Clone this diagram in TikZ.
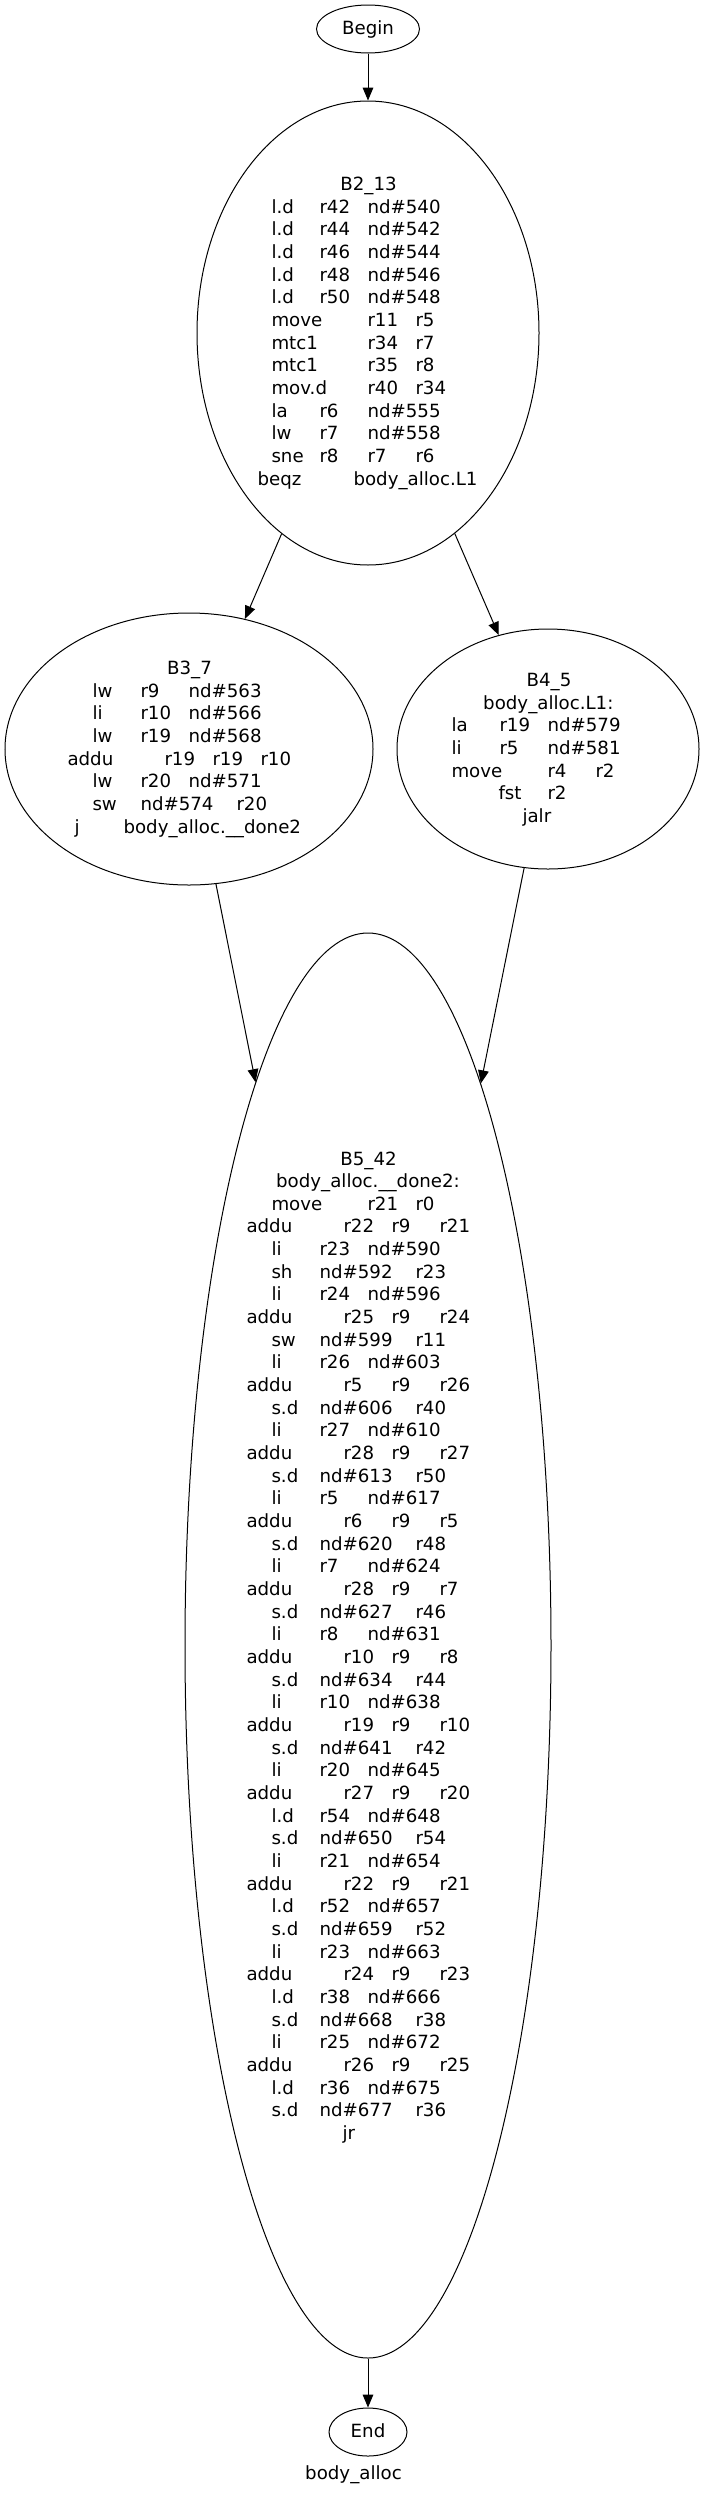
\documentclass[tikz,border=0pt]{standalone}
\usepackage{fontspec}
\setmainfont{DejaVu Sans}
\usetikzlibrary{shapes.geometric,arrows.meta}
\newcounter{tl}
\def\base{0}
\def\dx{0}
\newcommand\tok[3]{\stepcounter{tl}\node[txt,anchor=base west] (t\arabic{tl}) at ({#1+\dx-1.5},{\base+22.66*#2}) {#3};}
\newcommand\ctr[3]{\stepcounter{tl}\node[txt,anchor=base] (t\arabic{tl}) at ({#1},{\base+22.66*#2}) {#3};}
% rows: index, tokens
\newcommand\rowA[4]{\tok{273}{#1}{#2}\tok{321}{#1}{#3}\tok{369}{#1}{#4}}
\newcommand\rowB[4]{\tok{273}{#1}{#2}\tok{369}{#1}{#3}\tok{417}{#1}{#4}}
\newcommand\rowC[4]{\tok{273}{#1}{#2}\tok{321}{#1}{#3}\tok{417}{#1}{#4}}
\newcommand\rowD[4]{\tok{248}{#1}{addu}\tok{345}{#1}{#2}\tok{393}{#1}{#3}\tok{441}{#1}{#4}}
\begin{document}
\begin{tikzpicture}[x=0.75pt,y=-0.75pt,
  txt/.style={inner sep=0pt,outer sep=0pt,font=\fontsize{13.65}{16}\selectfont},
  blk/.style={draw,ellipse,inner sep=0pt,line width=0.75pt},
  arr/.style={-{Triangle[length=9.75pt,width=8pt]},line width=0.75pt}]
\fill[white] (0,0) rectangle (704,2495);
\useasboundingbox (0,0) rectangle (704,2495);
% block shapes
\node[blk,minimum width=77.25pt,minimum height=36pt] (begin) at (368,29) {};
\node[txt,anchor=base] (beginlbl) at (368,34.5) {Begin};
\node[blk,minimum width=256.5pt,minimum height=348pt] (b2) at (368,333) {};
\node[blk,minimum width=276pt,minimum height=204pt] (b3) at (189,749) {};
\node[blk,minimum width=226.5pt,minimum height=180pt] (b4) at (548,749) {};
\node[blk,minimum width=274.5pt,minimum height=1068.75pt] (b5) at (368,1645.5) {};
\node[blk,minimum width=58.5pt,minimum height=36pt] (end) at (368,2432) {};
\node[txt,anchor=base] (endlbl) at (368,2437) {End};
\node[txt,anchor=base] (graphlbl) at (353.5,2479) {body\_alloc};
% edges
\draw[arr] (begin) -- (b2);
\draw[arr] (b2) -- (b3);
\draw[arr] (b2) -- (b4);
\draw[arr] (b3) -- (b5);
\draw[arr] (b4) -- (b5);
\draw[arr] (b5) -- (end);
% B2_13
\def\base{190.5}\def\dx{0}
\ctr{368.5}{0}{B2\_13}
\rowA{1}{l.d}{r42}{nd\#540}
\rowA{2}{l.d}{r44}{nd\#542}
\rowA{3}{l.d}{r46}{nd\#544}
\rowA{4}{l.d}{r48}{nd\#546}
\rowA{5}{l.d}{r50}{nd\#548}
\rowB{6}{move}{r11}{r5}
\rowB{7}{mtc1}{r34}{r7}
\rowB{8}{mtc1}{r35}{r8}
\rowB{9}{mov.d}{r40}{r34}
\rowA{10}{la}{r6}{nd\#555}
\rowA{11}{lw}{r7}{nd\#558}
\rowA{12}{sne}{r8}{r7}\tok{417}{12}{r6}
\tok{259}{13}{beqz}\tok{355}{13}{body\_alloc.L1}
% B3_7
\def\base{674.5}\def\dx{-179}
\ctr{189.5}{0}{B3\_7}
\rowA{1}{lw}{r9}{nd\#563}
\rowA{2}{li}{r10}{nd\#566}
\rowA{3}{lw}{r19}{nd\#568}
\rowD{4}{r19}{r19}{r10}
\rowA{5}{lw}{r20}{nd\#571}
\rowC{6}{sw}{nd\#574}{r20}
\tok{255}{7}{j}\tok{304}{7}{body\_alloc.\_\_done2}
% B4_5
\def\base{686.5}\def\dx{180}
\ctr{549}{0}{B4\_5}
\ctr{548.3}{1}{body\_alloc.L1:}
\rowA{2}{la}{r19}{nd\#579}
\rowA{3}{li}{r5}{nd\#581}
\rowB{4}{move}{r4}{r2}
\tok{320}{5}{fst}\tok{369}{5}{r2}
\tok{344}{6}{jalr}
% B5_42
\def\base{1165}\def\dx{0}
\ctr{368.5}{0}{B5\_42}
\ctr{368}{1}{body\_alloc.\_\_done2:}
\rowB{2}{move}{r21}{r0}
\rowD{3}{r22}{r9}{r21}
\rowA{4}{li}{r23}{nd\#590}
\rowC{5}{sh}{nd\#592}{r23}
\rowA{6}{li}{r24}{nd\#596}
\rowD{7}{r25}{r9}{r24}
\rowC{8}{sw}{nd\#599}{r11}
\rowA{9}{li}{r26}{nd\#603}
\rowD{10}{r5}{r9}{r26}
\rowC{11}{s.d}{nd\#606}{r40}
\rowA{12}{li}{r27}{nd\#610}
\rowD{13}{r28}{r9}{r27}
\rowC{14}{s.d}{nd\#613}{r50}
\rowA{15}{li}{r5}{nd\#617}
\rowD{16}{r6}{r9}{r5}
\rowC{17}{s.d}{nd\#620}{r48}
\rowA{18}{li}{r7}{nd\#624}
\rowD{19}{r28}{r9}{r7}
\rowC{20}{s.d}{nd\#627}{r46}
\rowA{21}{li}{r8}{nd\#631}
\rowD{22}{r10}{r9}{r8}
\rowC{23}{s.d}{nd\#634}{r44}
\rowA{24}{li}{r10}{nd\#638}
\rowD{25}{r19}{r9}{r10}
\rowC{26}{s.d}{nd\#641}{r42}
\rowA{27}{li}{r20}{nd\#645}
\rowD{28}{r27}{r9}{r20}
\rowA{29}{l.d}{r54}{nd\#648}
\rowC{30}{s.d}{nd\#650}{r54}
\rowA{31}{li}{r21}{nd\#654}
\rowD{32}{r22}{r9}{r21}
\rowA{33}{l.d}{r52}{nd\#657}
\rowC{34}{s.d}{nd\#659}{r52}
\rowA{35}{li}{r23}{nd\#663}
\rowD{36}{r24}{r9}{r23}
\rowA{37}{l.d}{r38}{nd\#666}
\rowC{38}{s.d}{nd\#668}{r38}
\rowA{39}{li}{r25}{nd\#672}
\rowD{40}{r26}{r9}{r25}
\rowA{41}{l.d}{r36}{nd\#675}
\rowC{42}{s.d}{nd\#677}{r36}
\tok{344}{43}{jr}
\end{tikzpicture}
\end{document}
